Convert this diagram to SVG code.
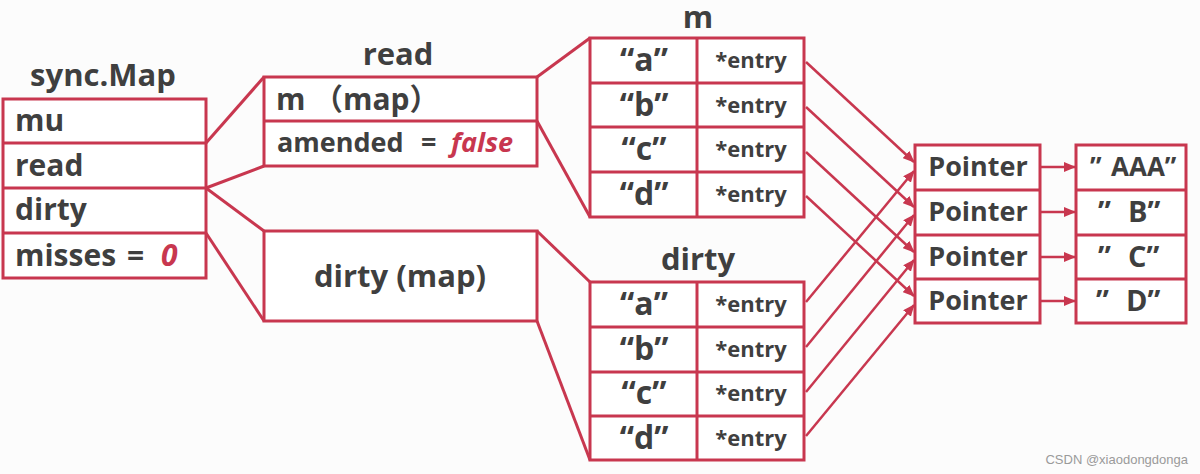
<svg xmlns="http://www.w3.org/2000/svg" width="1200" height="474" viewBox="0 0 1200 474">
<style>
.box{fill:#fff;stroke:#C8374F;stroke-width:3}
.ln{stroke:#C8374F;stroke-width:3;fill:none}
.ar{stroke:#C8374F;stroke-width:2.5;fill:none;marker-end:url(#ah)}
.t{font-family:"Open Sans","Noto Sans","Noto Sans CJK SC",sans-serif;font-weight:bold;fill:#3f3f3f}
.h{font-size:31px;text-anchor:middle}
.f{font-size:30px}
.s{font-size:27px}
.e{font-size:22px;text-anchor:middle}
.k{font-size:32px;text-anchor:middle}
.p{font-size:27px;text-anchor:middle}
.v{font-size:29px}
.red{fill:#C8374F;font-style:italic}
</style>
<defs>
<marker id="ah" markerWidth="12" markerHeight="10" refX="11" refY="5" orient="auto" markerUnits="userSpaceOnUse"><path d="M0,0 L12,5 L0,10 z" fill="#C8374F"/></marker>
</defs>
<rect width="1200" height="474" fill="#fcfcfc"/>

<g id="syncmap">
<text class="t h" x="103" y="86">sync.Map</text>
<rect class="box" x="3" y="99" width="203" height="179"/>
<line class="ln" x1="3" y1="143" x2="206" y2="143"/>
<line class="ln" x1="3" y1="188" x2="206" y2="188"/>
<line class="ln" x1="3" y1="233" x2="206" y2="233"/>
<text class="t f" x="15" y="131">mu</text>
<text class="t f" x="15" y="176">read</text>
<text class="t f" x="15" y="220">dirty</text>
<text class="t f" x="15" y="266">misses <tspan x="127">=</tspan> <tspan class="red" x="161">0</tspan></text>
</g>

<g id="read">
<text class="t h" x="398" y="65">read</text>
<rect class="box" x="264" y="77" width="273" height="89"/>
<line class="ln" x1="264" y1="121" x2="537" y2="121"/>
<text class="t f" x="276" y="110">m<tspan x="313">（map）</tspan></text>
<text class="t s" x="277" y="152">amended <tspan x="421">=</tspan> <tspan class="red" x="451">false</tspan></text>
</g>

<g id="dirtymap">
<rect class="box" x="264" y="231" width="273" height="90"/>
<text class="t h" x="400" y="287">dirty (map)</text>
</g>

<g id="m">
<text class="t h" x="698" y="28">m</text>
<rect class="box" x="590" y="38" width="214" height="179"/>
<line class="ln" x1="590" y1="83" x2="804" y2="83"/>
<line class="ln" x1="590" y1="127" x2="804" y2="127"/>
<line class="ln" x1="590" y1="172" x2="804" y2="172"/>
<line class="ln" x1="697" y1="38" x2="697" y2="217"/>
<text class="t k" x="644" y="71">“a”</text>
<text class="t k" x="644" y="116">“b”</text>
<text class="t k" x="644" y="160">“c”</text>
<text class="t k" x="644" y="205">“d”</text>
<text class="t e" x="751" y="68">*entry</text>
<text class="t e" x="751" y="113">*entry</text>
<text class="t e" x="751" y="157">*entry</text>
<text class="t e" x="751" y="202">*entry</text>
</g>

<g id="dirty">
<text class="t h" x="698" y="270">dirty</text>
<rect class="box" x="590" y="282" width="214" height="178"/>
<line class="ln" x1="590" y1="327" x2="804" y2="327"/>
<line class="ln" x1="590" y1="372" x2="804" y2="372"/>
<line class="ln" x1="590" y1="416" x2="804" y2="416"/>
<line class="ln" x1="697" y1="282" x2="697" y2="460"/>
<text class="t k" x="644" y="315">“a”</text>
<text class="t k" x="644" y="360">“b”</text>
<text class="t k" x="644" y="404">“c”</text>
<text class="t k" x="644" y="449">“d”</text>
<text class="t e" x="751" y="312">*entry</text>
<text class="t e" x="751" y="357">*entry</text>
<text class="t e" x="751" y="401">*entry</text>
<text class="t e" x="751" y="446">*entry</text>
</g>

<g id="pointers">
<rect class="box" x="915" y="145" width="125" height="178"/>
<line class="ln" x1="915" y1="190" x2="1040" y2="190"/>
<line class="ln" x1="915" y1="235" x2="1040" y2="235"/>
<line class="ln" x1="915" y1="279" x2="1040" y2="279"/>
<text class="t p" x="978" y="176">Pointer</text>
<text class="t p" x="978" y="221">Pointer</text>
<text class="t p" x="978" y="266">Pointer</text>
<text class="t p" x="978" y="310">Pointer</text>
</g>

<g id="values">
<rect class="box" x="1076" y="145" width="110" height="178"/>
<line class="ln" x1="1076" y1="190" x2="1186" y2="190"/>
<line class="ln" x1="1076" y1="235" x2="1186" y2="235"/>
<line class="ln" x1="1076" y1="279" x2="1186" y2="279"/>
<text class="t" font-size="26" x="1090" y="176">” <tspan x="1111">AAA”</tspan></text>
<text class="t v" x="1098" y="222">” <tspan x="1128">B”</tspan></text>
<text class="t v" x="1098" y="267">” <tspan x="1128">C”</tspan></text>
<text class="t v" x="1096" y="311">” <tspan x="1126">D”</tspan></text>
</g>

<g id="connectors">
<line class="ln" x1="206" y1="143" x2="264" y2="77"/>
<line class="ln" x1="206" y1="188" x2="264" y2="166"/>
<line class="ln" x1="206" y1="188" x2="264" y2="231"/>
<line class="ln" x1="206" y1="233" x2="264" y2="321"/>
<line class="ln" x1="537" y1="77" x2="590" y2="38"/>
<line class="ln" x1="537" y1="121" x2="590" y2="217"/>
<line class="ln" x1="537" y1="231" x2="590" y2="282"/>
<line class="ln" x1="537" y1="321" x2="590" y2="460"/>
<line class="ar" x1="806" y1="62" x2="914" y2="162"/>
<line class="ar" x1="806" y1="107" x2="914" y2="207"/>
<line class="ar" x1="806" y1="152" x2="914" y2="252"/>
<line class="ar" x1="806" y1="196" x2="914" y2="296"/>
<line class="ar" x1="806" y1="302" x2="914" y2="171"/>
<line class="ar" x1="806" y1="347" x2="914" y2="215"/>
<line class="ar" x1="806" y1="392" x2="914" y2="260"/>
<line class="ar" x1="806" y1="436" x2="914" y2="305"/>
<line class="ar" x1="1040" y1="167" x2="1075" y2="167"/>
<line class="ar" x1="1040" y1="212" x2="1075" y2="212"/>
<line class="ar" x1="1040" y1="257" x2="1075" y2="257"/>
<line class="ar" x1="1040" y1="301" x2="1075" y2="301"/>
</g>

<text x="1188" y="464" text-anchor="end" font-family="'Liberation Sans',Arial,sans-serif" font-size="13" fill="#9a9a9a">CSDN @xiaodongdonga</text>
</svg>
